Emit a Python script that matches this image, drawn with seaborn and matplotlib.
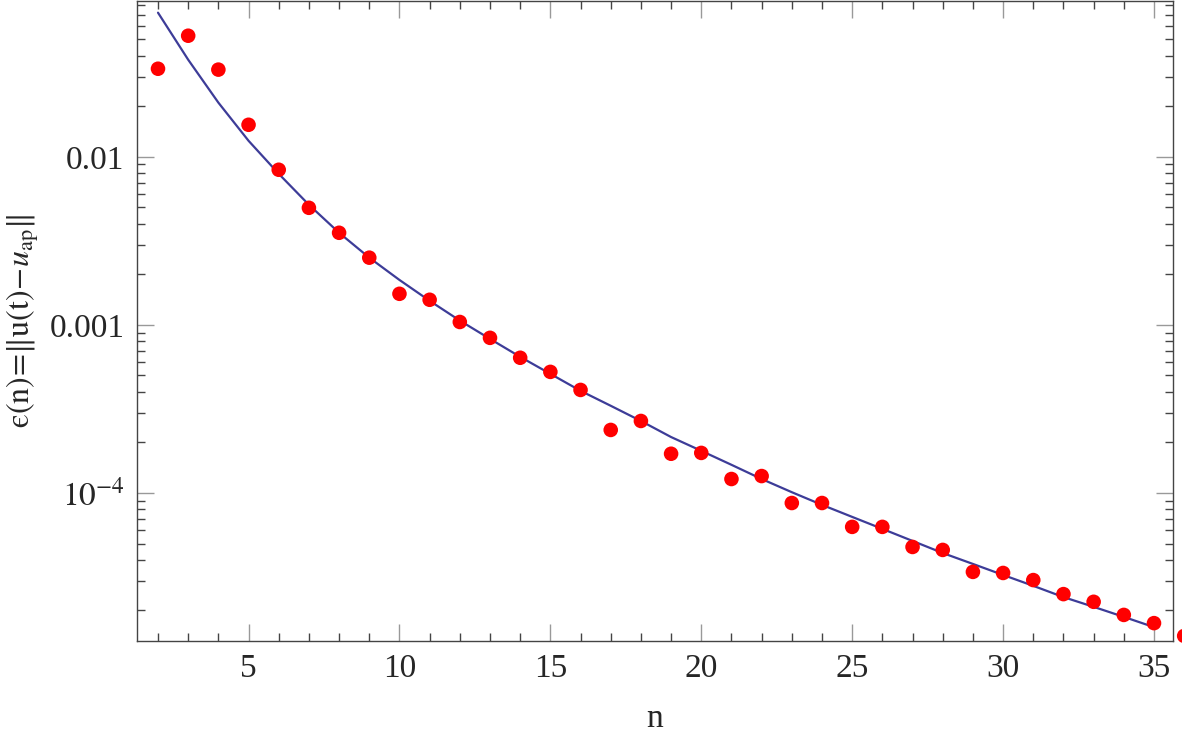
import numpy as np
import pandas as pd
import matplotlib
matplotlib.use("Agg")
import matplotlib.pyplot as plt
from matplotlib.ticker import FixedLocator, NullFormatter
import seaborn as sns

# error per n (red points)
n_pts = list(range(2, 37))
err_pts = [0.0334, 0.0525, 0.0330, 0.0155, 0.00837, 0.00497, 0.00353, 0.00251,
           0.00153, 0.00141, 0.00104, 0.000837, 0.000637, 0.000525, 0.000410,
           0.000237, 0.000268, 0.000171, 0.000173, 0.000121, 0.000126, 8.71e-5,
           8.71e-5, 6.28e-5, 6.28e-5, 4.77e-5, 4.58e-5, 3.39e-5, 3.34e-5,
           3.03e-5, 2.50e-5, 2.25e-5, 1.88e-5, 1.68e-5, 1.41e-5]

# fitted curve (blue line)
n_fit = list(range(2, 36))
err_fit = [0.0720, 0.0378, 0.0210, 0.01245, 0.00792, 0.00518, 0.00353, 0.00251,
           0.00185, 0.00139, 0.00106, 0.000825, 0.000645, 0.000511, 0.000405,
           0.000330, 0.000268, 0.000215, 0.000178, 0.000147, 0.000121, 0.000101,
           8.49e-5, 7.20e-5, 6.11e-5, 5.18e-5, 4.39e-5, 3.78e-5, 3.25e-5,
           2.80e-5, 2.40e-5, 2.10e-5, 1.83e-5, 1.59e-5]

ytick_vals = [0.01, 0.001, 1e-4]
ytick_labels = ["0.01", "0.001", r"$10^{-4}$"]
xtick_vals = [5, 10, 15, 20, 25, 30, 35]

sns.set_style("ticks")
plt.rcParams["font.family"] = ["Liberation Serif", "DejaVu Serif"]
plt.rcParams["mathtext.fontset"] = "stix"

df_pts = pd.DataFrame({"n": n_pts, "err": err_pts})
df_fit = pd.DataFrame({"n": n_fit, "err": err_fit})

fig = plt.figure(figsize=(11.82, 7.33), dpi=100)
ax = fig.add_axes([0.1159, 0.1255, 0.8765, 0.8735])

sns.lineplot(data=df_fit, x="n", y="err", ax=ax, color="#3d3c98", lw=1.6)
sns.scatterplot(data=df_pts, x="n", y="err", ax=ax, color="#ff0000", s=110,
                edgecolor="none", clip_on=False, zorder=3)

ax.set_yscale("log")
ax.set_xlim(1.304, 35.63)
ax.set_ylim(1.315e-5, 0.0848)

ax.set_xticks(xtick_vals)
ax.xaxis.set_minor_locator(FixedLocator(range(2, 36)))
ax.set_yticks(ytick_vals)
ax.set_yticklabels(ytick_labels)
ax.yaxis.set_minor_locator(FixedLocator(
    [m * 10.0 ** e for e in (-5, -4, -3, -2) for m in range(2, 10)]))
ax.yaxis.set_minor_formatter(NullFormatter())

for spine in ax.spines.values():
    spine.set_visible(True)
    spine.set_color("#444444")
    spine.set_linewidth(1.0)

ax.tick_params(which="both", direction="in", top=True, right=True,
               labelsize=24, pad=9)
ax.tick_params(which="major", length=12, width=1.0, color="#999999")
ax.tick_params(which="minor", length=6, width=1.0, color="#444444")

ax.set_xlabel("n", fontsize=24, labelpad=14)
ax.set_ylabel("$\\mathrm{\u03f5}(\\mathrm{n})\\!=\\!\\Vert\\mathrm{u}(\\mathrm{t})\\!-\\!u_{\\mathrm{ap}}\\Vert$",
              fontsize=23, labelpad=6)

fig.patch.set_facecolor("w")
fig.savefig("out.png", dpi=100)
